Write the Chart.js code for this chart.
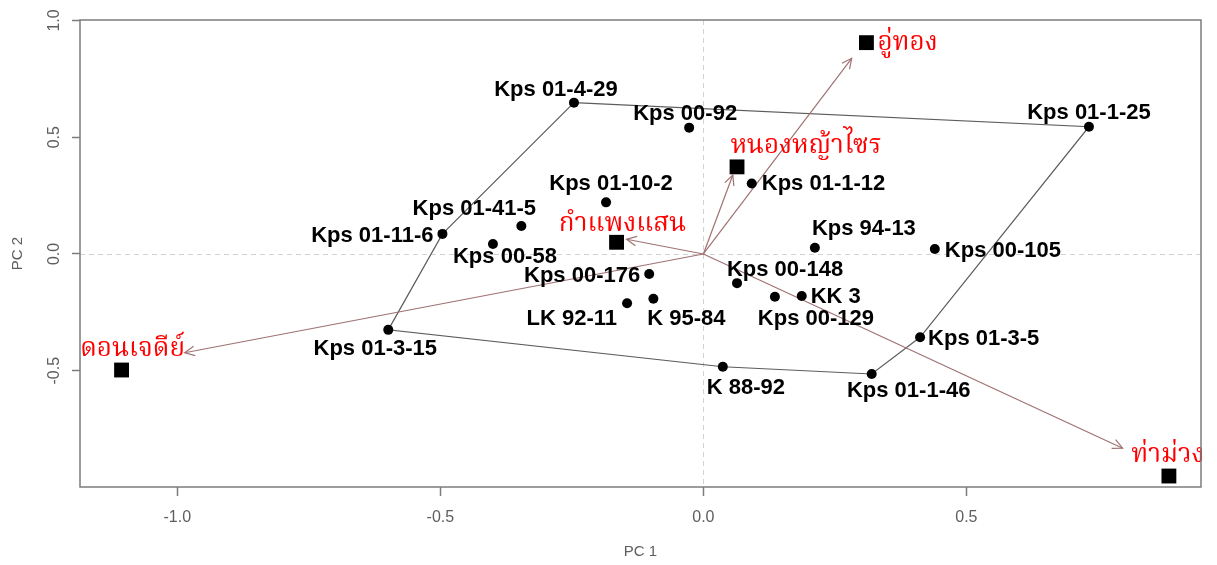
<!DOCTYPE html>
<html>
<head>
<meta charset="utf-8">
<script src="https://cdn.jsdelivr.net/npm/chart.js@4/dist/chart.umd.min.js"></script>
<style>
  html, body { margin: 0; padding: 0; background: #ffffff; }
  canvas { display: block; }
</style>
</head>
<body>
<canvas id="biplot" width="1217" height="565"></canvas>
<script>
// Genotype scores on the first two principal components
const genotypes = ['Kps 01-4-29', 'Kps 00-92', 'Kps 01-1-25', 'Kps 01-1-12', 'Kps 01-10-2',
  'Kps 01-41-5', 'Kps 01-11-6', 'Kps 00-58', 'Kps 94-13', 'Kps 00-105', 'Kps 00-176',
  'Kps 00-148', 'Kps 00-129', 'KK 3', 'LK 92-11', 'K 95-84', 'Kps 01-3-15', 'Kps 01-3-5',
  'K 88-92', 'Kps 01-1-46'];
const genoPC1 = [-0.246, -0.027, 0.733, 0.092, -0.185, -0.346, -0.496, -0.400, 0.212, 0.440,
  -0.103, 0.064, 0.136, 0.187, -0.145, -0.095, -0.599, 0.412, 0.037, 0.320];
const genoPC2 = [0.648, 0.541, 0.545, 0.302, 0.221, 0.120, 0.086, 0.043, 0.027, 0.021,
  -0.086, -0.125, -0.183, -0.180, -0.211, -0.192, -0.325, -0.357, -0.483, -0.514];

// Environment scores and the tips of their vectors
const environments = ['อู่ทอง', 'หนองหญ้าไซร', 'กำแพงแสน', 'ดอนเจดีย์', 'ท่าม่วง'];
const envPC1 = [0.310, 0.064, -0.165, -1.106, 0.885];
const envPC2 = [0.905, 0.373, 0.050, -0.497, -0.951];
const vectorPC1 = [0.282, 0.056, -0.146, -0.986, 0.797];
const vectorPC2 = [0.838, 0.338, 0.063, -0.423, -0.832];

// Vertex genotypes of the polygon, in drawing order
const hullOrder = ['Kps 01-4-29', 'Kps 01-1-25', 'Kps 01-3-5', 'Kps 01-1-46', 'K 88-92',
  'Kps 01-3-15', 'Kps 01-11-6', 'Kps 01-4-29'];

// Axis ticks and limits
const xTicks = [-1.0, -0.5, 0.0, 0.5];
const yTicks = [-0.5, 0.0, 0.5, 1.0];
const xLimits = [-1.185, 0.946];
const yLimits = [-0.998, 1.002];

// Label placement (pixel offsets from the marker, text anchor)
const genoLabelPos = {
  'Kps 01-4-29': [-18, -7, 'center'], 'Kps 00-92': [-4, -8, 'center'],
  'Kps 01-1-25': [0, -8, 'center'], 'Kps 01-1-12': [10, 7, 'left'],
  'Kps 01-10-2': [5, -12, 'center'], 'Kps 01-41-5': [-47, -11, 'center'],
  'Kps 01-11-6': [-9, 8, 'right'], 'Kps 00-58': [12, 19, 'center'],
  'Kps 94-13': [49, -13, 'center'], 'Kps 00-105': [10, 8, 'left'],
  'Kps 00-176': [-9, 8, 'right'], 'Kps 00-148': [48, -7, 'center'],
  'Kps 00-129': [41, 28, 'center'], 'KK 3': [9, 7, 'left'],
  'LK 92-11': [-10, 22, 'right'], 'K 95-84': [33, 26, 'center'],
  'Kps 01-3-15': [-13, 25, 'center'], 'Kps 01-3-5': [8, 8, 'left'],
  'K 88-92': [23, 27, 'center'], 'Kps 01-1-46': [37, 23, 'center']
};
const envLabelPos = [[11, 7, 'left'], [69, -14, 'center'], [6, -11, 'center'],
  [11, -14, 'center'], [-1, -14, 'center']];

const ARROW = '#a07272';
const LATIN = '"Liberation Sans", Arial, Helvetica, sans-serif';
const THAI = '"Noto Serif Thai", "Noto Sans Thai Looped", "Noto Sans Thai", Tahoma, "Liberation Sans", sans-serif';

const genoPoints = genotypes.map((g, i) => ({ x: genoPC1[i], y: genoPC2[i] }));
const envPoints = environments.map((e, i) => ({ x: envPC1[i], y: envPC2[i] }));
const hullPoints = hullOrder.map(name => {
  const i = genotypes.indexOf(name);
  return { x: genoPC1[i], y: genoPC2[i] };
});
const vectorSets = environments.map((e, i) => ({
  label: e,
  data: [{ x: 0, y: 0 }, { x: vectorPC1[i], y: vectorPC2[i] }],
  showLine: true,
  borderColor: ARROW,
  borderWidth: 1.2,
  pointRadius: 0,
  order: 2
}));

const biplotDecor = {
  id: 'biplotDecor',
  beforeDatasetsDraw(chart) {
    const { ctx, chartArea: a, scales: { x, y } } = chart;
    ctx.save();
    ctx.strokeStyle = '#d2d2d2';
    ctx.lineWidth = 1;
    ctx.setLineDash([5, 4]);
    const x0 = Math.round(x.getPixelForValue(0)) + 0.5;
    const y0 = Math.round(y.getPixelForValue(0)) + 0.5;
    ctx.beginPath();
    ctx.moveTo(x0, a.top); ctx.lineTo(x0, a.bottom);
    ctx.moveTo(a.left, y0); ctx.lineTo(a.right, y0);
    ctx.stroke();
    ctx.restore();
  },
  afterDatasetsDraw(chart) {
    const { ctx, chartArea: a, scales: { x, y } } = chart;
    ctx.save();
    // arrowheads on the environment vectors
    ctx.strokeStyle = ARROW;
    ctx.lineWidth = 1.2;
    const ox = x.getPixelForValue(0), oy = y.getPixelForValue(0);
    environments.forEach((e, i) => {
      const tx = x.getPixelForValue(vectorPC1[i]);
      const ty = y.getPixelForValue(vectorPC2[i]);
      const ang = Math.atan2(ty - oy, tx - ox);
      const len = 11, spread = Math.PI / 7;
      ctx.beginPath();
      ctx.moveTo(tx - len * Math.cos(ang - spread), ty - len * Math.sin(ang - spread));
      ctx.lineTo(tx, ty);
      ctx.lineTo(tx - len * Math.cos(ang + spread), ty - len * Math.sin(ang + spread));
      ctx.stroke();
    });
    // genotype names
    ctx.fillStyle = '#000000';
    ctx.font = 'bold 22px ' + LATIN;
    ctx.textBaseline = 'alphabetic';
    genotypes.forEach((g, i) => {
      const [dx, dy, align] = genoLabelPos[g];
      ctx.textAlign = align;
      ctx.fillText(g, x.getPixelForValue(genoPC1[i]) + dx, y.getPixelForValue(genoPC2[i]) + dy);
    });
    // environment names
    ctx.fillStyle = '#ff0000';
    ctx.font = '26px ' + THAI;
    environments.forEach((e, i) => {
      const [dx, dy, align] = envLabelPos[i];
      ctx.textAlign = align;
      ctx.fillText(e, x.getPixelForValue(envPC1[i]) + dx, y.getPixelForValue(envPC2[i]) + dy);
    });
    // frame
    ctx.strokeStyle = '#7c7c7c';
    ctx.lineWidth = 1.5;
    ctx.strokeRect(a.left, a.top, a.right - a.left, a.bottom - a.top);
    ctx.restore();
  },
  afterDraw(chart) {
    const { ctx, chartArea: a, scales: { x, y } } = chart;
    ctx.save();
    ctx.fillStyle = '#5e5e5e';
    ctx.font = '16px ' + LATIN;
    ctx.textAlign = 'center';
    ctx.textBaseline = 'middle';
    xTicks.forEach(v => ctx.fillText(v.toFixed(1), x.getPixelForValue(v), 518));
    yTicks.forEach(v => {
      ctx.save();
      ctx.translate(55, y.getPixelForValue(v));
      ctx.rotate(-Math.PI / 2);
      ctx.fillText(v.toFixed(1), 0, 0);
      ctx.restore();
    });
    ctx.font = '15px ' + LATIN;
    ctx.fillText('PC 1', (a.left + a.right) / 2, 552);
    ctx.save();
    ctx.translate(17.5, (a.top + a.bottom) / 2);
    ctx.rotate(-Math.PI / 2);
    ctx.fillText('PC 2', 0, 0);
    ctx.restore();
    ctx.restore();
  }
};

new Chart(document.getElementById('biplot'), {
  type: 'scatter',
  data: {
    datasets: [
      {
        label: 'genotypes',
        data: genoPoints,
        pointRadius: 5,
        pointHoverRadius: 5,
        backgroundColor: '#000000',
        borderWidth: 0,
        order: 0
      },
      {
        label: 'environments',
        data: envPoints,
        pointStyle: 'rect',
        pointRadius: 10.5,
        pointHoverRadius: 10.5,
        backgroundColor: '#000000',
        borderWidth: 0,
        order: 1
      },
      ...vectorSets,
      {
        label: 'polygon',
        data: hullPoints,
        showLine: true,
        borderColor: '#5c5c5c',
        borderWidth: 1.2,
        pointRadius: 0,
        order: 3
      }
    ]
  },
  options: {
    responsive: false,
    animation: false,
    devicePixelRatio: 1,
    layout: { padding: { left: 72, right: 16, top: 20, bottom: 69 } },
    plugins: { legend: { display: false }, tooltip: { enabled: false } },
    scales: {
      x: {
        type: 'linear', min: xLimits[0], max: xLimits[1],
        afterBuildTicks: s => { s.ticks = xTicks.map(v => ({ value: v })); },
        ticks: { display: false },
        grid: { drawOnChartArea: false, drawTicks: true, tickLength: 9, tickColor: '#7c7c7c', tickWidth: 1.5 },
        border: { display: false }
      },
      y: {
        type: 'linear', min: yLimits[0], max: yLimits[1],
        afterBuildTicks: s => { s.ticks = yTicks.map(v => ({ value: v })); },
        ticks: { display: false },
        grid: { drawOnChartArea: false, drawTicks: true, tickLength: 8, tickColor: '#7c7c7c', tickWidth: 1.5 },
        border: { display: false }
      }
    }
  },
  plugins: [biplotDecor]
});
</script>
</body>
</html>
